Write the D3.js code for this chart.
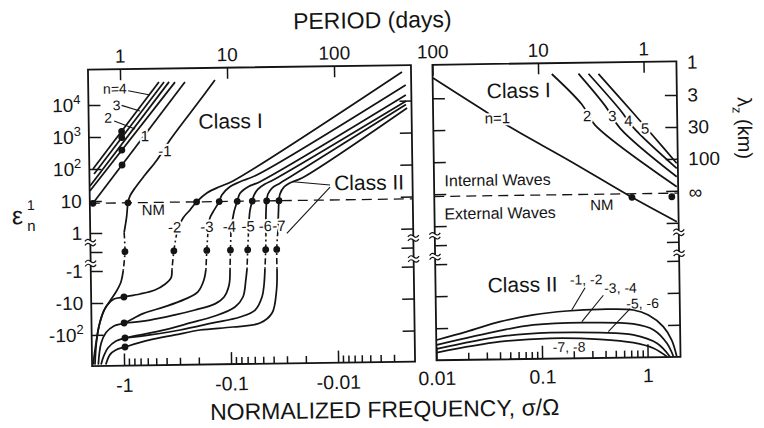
<!DOCTYPE html>
<html>
<head>
<meta charset="utf-8">
<script src="https://cdn.jsdelivr.net/npm/d3@7/dist/d3.min.js"></script>
<style>
  html, body { margin: 0; padding: 0; background: #fff; }
  svg { display: block; }
  text { font-family: "Liberation Sans", Arial, Helvetica, sans-serif; fill: #141414; }
</style>
</head>
<body>
<svg id="chart" width="764" height="428"></svg>
<script>
// ---------------- values: [σ/Ω, ε] ----------------
const nmLevel = 8.5;   // ε of the normal mode (dashed line)

// westward (σ < 0), Class I branches with ε > 0
const westI_n4 = [[-1.84, 100], [-0.434, 4.9e4]];
const westI_n3 = [[-1.80, 70], [-0.389, 4.9e4]];
const westI_n2 = [[-1.97, 29.6], [-0.349, 4.9e4]];
const westI_nb = [[-1.98, 20.6], [-0.307, 4.8e4]];
const westI_n1 = [[-1.86, 8.5], [-0.248, 4.8e4]];
const westI_nm1 = [[-0.130, 5.4e4], [-0.180, 1.29e4], [-0.348, 750], [-0.463, 180], [-0.603, 61.7],
  [-0.749, 24.6], [-0.838, 13.8], [-0.876, 8.5], [-0.905, 3.14], [-0.96, 1], [-0.948, 0], [-0.99, -1],
  [-1.043, -2.25], [-1.165, -4.63], [-1.33, -8.8], [-1.52, -17.4], [-1.70, -54.6], [-1.82, -186], [-1.95, -846]];

// westward, Class II branches (n = -2 … -7)
const westII_m2 = [[-0.00232, 7.9e4], [-0.0908, 36.8], [-0.120, 25.1], [-0.160, 15.9], [-0.200, 8.5],
  [-0.231, 4.77], [-0.269, 2.70], [-0.308, 1], [-0.331, 0], [-0.347, -1], [-0.355, -1.78], [-0.405, -2.78],
  [-0.503, -4.16], [-0.695, -5.47], [-0.983, -6.68], [-1.22, -7.66], [-1.42, -12.2], [-1.62, -31],
  [-1.78, -129], [-1.87, -846]];
const westII_m3 = [[-0.00215, 3.09e4], [-0.0544, 55.2], [-0.0781, 34.7], [-0.0973, 24.4], [-0.116, 13.6],
  [-0.123, 8.5], [-0.141, 4.04], [-0.151, 2.62], [-0.158, 1], [-0.163, 0], [-0.167, -1], [-0.175, -2.13],
  [-0.200, -5.0], [-0.264, -8.3], [-0.407, -14.0], [-0.656, -22.5], [-0.987, -43.4], [-1.23, -53],
  [-1.46, -85], [-1.63, -187], [-1.74, -846]];
const westII_m4 = [[-0.00215, 1.5e4], [-0.0508, 34], [-0.0655, 24], [-0.0784, 15.1], [-0.0834, 8.5],
  [-0.0898, 3.95], [-0.0964, 1], [-0.098, 0], [-0.0995, -1], [-0.102, -3.14], [-0.114, -7.4],
  [-0.139, -12.0], [-0.214, -18.3], [-0.330, -25.6], [-0.565, -36], [-0.987, -43.4]];
const westII_m5 = [[-0.00214, 9.7e3], [-0.0368, 40.5], [-0.0457, 28.6], [-0.0532, 20], [-0.058, 13.1],
  [-0.0604, 8.5], [-0.0637, 4.2], [-0.066, 1], [-0.0676, 0], [-0.069, -1], [-0.071, -2.22],
  [-0.0759, -7.53], [-0.0904, -15.3], [-0.14, -28.8], [-0.239, -46.3], [-0.457, -79.6], [-0.973, -128],
  [-1.18, -157], [-1.41, -258], [-1.54, -448], [-1.64, -846]];
const westII_m6 = [[-0.00215, 7.6e3], [-0.0266, 46.3], [-0.0331, 30], [-0.0393, 21.3], [-0.043, 13.9],
  [-0.0443, 8.5], [-0.0451, 3.8], [-0.0454, 1], [-0.0459, 0], [-0.0469, -1], [-0.0481, -3.24],
  [-0.0504, -7.66], [-0.0587, -19.5], [-0.0813, -31.6], [-0.146, -47.3], [-0.297, -76], [-0.568, -105],
  [-0.973, -128]];
const westII_m7 = [[-0.0021, 5.9e3], [-0.0206, 42.4], [-0.0255, 32.3], [-0.0303, 22.7], [-0.0332, 13.7],
  [-0.034, 8.5], [-0.0345, 3.77], [-0.0351, 1], [-0.0362, 0], [-0.0362, -1], [-0.0368, -4.7],
  [-0.0408, -24.6], [-0.053, -50], [-0.095, -64.6], [-0.193, -77.6], [-0.332, -108], [-0.569, -151],
  [-0.975, -245], [-1.19, -300], [-1.35, -417], [-1.48, -851]];

// dots on the westward branches
const westNMDots = [-1.86, -0.876, -0.200, -0.123, -0.0834, -0.0604, -0.0443, -0.034];   // on ε = nmLevel
const westZeroDots = [-0.948, -0.331, -0.163, -0.098, -0.0676, -0.0459, -0.0362];        // ε = 0
const westUnitDots = [[-0.983, 1470], [-0.983, 940], [-0.983, 380], [-0.983, 130],
  [-0.983, -6.68], [-0.987, -43.4], [-0.973, -128], [-0.975, -245]];

// eastward (σ > 0), Class I
const eastI_n1 = [[0.0101, 4.3e4], [0.0279, 4730], [0.0533, 1170], [0.195, 95.9], [0.746, 6.6], [1.97, 1.09]];
const eastI_n2 = [[0.1347, 5.1e4], [0.2567, 5580], [0.341, 1240], [1.99, 13.5]];
const eastI_n3 = [[0.241, 5.1e4], [0.428, 4870], [0.589, 955], [1.995, 27.7]];
const eastI_n4 = [[0.300, 5.0e4], [0.593, 3560], [0.787, 990], [2.0, 50.6]];
const eastI_n5 = [[0.373, 4.9e4], [0.791, 2780], [1.21, 531], [2.0, 72.9]];
// eastward, Class II (pairs of degenerate modes)
const eastII_12 = [[0.0101, -233], [0.0195, -132], [0.0405, -66.5], [0.0837, -42.4], [0.174, -33.0],
  [0.36, -30.3], [0.743, -32.8], [1.03, -47.6], [1.42, -112], [1.70, -296], [1.89, -985]];
const eastII_34 = [[0.0101, -331], [0.0404, -127], [0.0834, -87], [0.248, -77.6], [0.741, -89.8],
  [1.15, -141], [1.53, -373], [1.76, -985]];
const eastII_56 = [[0.0101, -444], [0.0402, -196], [0.12, -155], [0.357, -163], [0.738, -198],
  [1.23, -370], [1.63, -980]];
const eastII_78 = [[0.0101, -576], [0.0402, -281], [0.12, -231], [0.356, -262], [0.736, -345],
  [1.14, -525], [1.53, -980]];
const eastNMDots = [[0.746, 6.6], [1.78, 6.6]];

// axis ticks and labels
const freqTicksWest = [-1, -0.1, -0.01];
const freqLabelsWest = ["-1", "-0.1", "-0.01"];
const freqTicksEast = [0.01, 0.1, 1];
const freqLabelsEast = ["0.01", "0.1", "1"];
const periodLabelsWest = ["1", "10", "100"];
const periodLabelsEast = ["100", "10", "1"];
const epsTicksUpper = [1, 10, 100, 1000, 10000];
const epsTicksLower = [-1, -10, -100];
const epsLabelsUpper = [["1", ""], ["10", ""], ["10", "2"], ["10", "3"], ["10", "4"]];
const epsLabelsLower = [["-1", ""], ["-10", ""], ["-10", "2"]];
const lambdaTicks = [10000, 1000, 100];
const lambdaLabels = ["3", "30", "100"];

// annotations: [text, σ, ε]
const westModeLabels = [["n=4", -1.12, 3.16e4], ["3", -1.085, 9650], ["2", -1.31, 3960]];
const westLineLabels = [["1", -0.596, 1020], ["-1", -0.389, 341], ["-2", -0.323, 1.4], ["-3", -0.162, 1.4],
  ["-4", -0.0995, 1.4], ["-5", -0.0667, 1.4], ["-6", -0.0458, 1.4], ["-7", -0.0343, 1.4]];
const westLeaders = [[[-0.842, 2.7e4], [-0.528, 1.95e4]], [[-0.975, 9500], [-0.659, 6200]],
  [[-1.15, 3110], [-0.736, 1710]], [[-0.01128, 24.9], [-0.025, 32.8]], [[-0.01128, 21.6], [-0.029, 0.84]]];
const eastLineLabels = [["n=1", 0.0406, 2270], ["2", 0.288, 2390], ["3", 0.50, 2330], ["4", 0.706, 1630], ["5", 1.015, 930]];
const eastPairLabels = [["-1, -2", 0.268, -3.5], ["-3, -4", 0.565, -6.6], ["-5, -6", 0.91, -20.5], ["-7, -8", 0.181, -439]];
const eastLeaders = [[[0.261, -6.3], [0.194, -30.9]], [[0.388, -11.0], [0.241, -72.4]], [[0.693, -29.5], [0.428, -151]]];

// ---------------- layout ----------------
const W = { x0: 90, x1: 413, y0: 65.5, y1: 362 };
const E = { x0: 434.5, x1: 678.5, y0: 65.5, y1: 361 };

const xW = d3.scaleLog().domain([-1.99, -0.00191]).range([W.x0, W.x1]);
const xE = d3.scaleLog().domain([0.01, 2.05]).range([E.x0, E.x1]);

// broken ε axis: log above 1, linear through 0, log below -1
function makeY(off) {
  const up = d3.scaleLog().domain([1, Math.pow(10, 5.11)]).range([229 + off, 65.5 + off]);
  const mid = d3.scaleLinear().domain([1, -1]).range([229 + off, 267 + off]);
  const lo = d3.scaleLog().domain([-1, -Math.pow(10, 2.97)]).range([267 + off, 362 + off]);
  const f = e => (e >= 1 ? up(e) : e <= -1 ? lo(e) : mid(e));
  f.up = up; f.mid = mid; f.lo = lo;
  return f;
}
const yW = makeY(0);
const yE = makeY(-2);

const svg = d3.select("#chart");
const defs = svg.append("defs");
[["clipW", W], ["clipE", E]].forEach(([id, p]) =>
  defs.append("clipPath").attr("id", id).append("rect")
    .attr("x", p.x0).attr("y", p.y0).attr("width", p.x1 - p.x0).attr("height", p.y1 - p.y0));

const root = svg.append("g").attr("transform", "rotate(-0.8,382,214)");
const ink = "#141414";

function splitRuns(pts) {
  const runs = [];
  let cur = null;
  for (let i = 0; i < pts.length - 1; i++) {
    const a = pts[i], b = pts[i + 1];
    const type = (Math.abs(a[1]) <= 1.0001 && Math.abs(b[1]) <= 1.0001) ? "mid" : "solid";
    if (!cur || cur.type !== type) { cur = { type, pts: [a] }; runs.push(cur); }
    cur.pts.push(b);
  }
  return runs;
}
function drawCurves(g, list, x, y) {
  const gen = d3.line().x(d => x(d[0])).y(d => y(d[1])).curve(d3.curveCatmullRom.alpha(0.5));
  list.forEach(pts => splitRuns(pts).forEach(r => {
    g.append("path").attr("d", gen(r.pts)).attr("fill", "none").attr("stroke", ink)
      .attr("stroke-width", r.type === "mid" ? 1.6 : 1.75)
      .attr("stroke-dasharray", r.type === "mid" ? "6,3,1.8,3" : null);
  }));
}
function drawLeaders(g, list, x, y) {
  list.forEach(l => g.append("line").attr("x1", x(l[0][0])).attr("y1", y(l[0][1]))
    .attr("x2", x(l[1][0])).attr("y2", y(l[1][1])).attr("stroke", ink).attr("stroke-width", 1.1));
}
function drawLabels(g, list, x, y, size, halo) {
  list.forEach(([t, s, e]) => {
    const el = g.append("text").attr("x", x(s)).attr("y", y(e)).attr("dy", "0.35em")
      .attr("text-anchor", "middle").attr("font-size", size).text(t);
    if (halo) el.attr("stroke", "#fff").attr("stroke-width", 4).attr("stroke-linejoin", "round")
      .attr("paint-order", "stroke");
  });
}
function dots(g, list, x, y) {
  g.selectAll(null).data(list).enter().append("circle")
    .attr("cx", d => x(d[0])).attr("cy", d => y(d[1])).attr("r", 3.4).attr("fill", ink);
}

// ---------------- west panel ----------------
const gW = root.append("g");
const cW = gW.append("g").attr("clip-path", "url(#clipW)");
cW.append("line").attr("x1", W.x0).attr("x2", W.x1).attr("y1", yW(nmLevel)).attr("y2", yW(nmLevel))
  .attr("stroke", ink).attr("stroke-width", 1.3).attr("stroke-dasharray", "10,6");
drawCurves(cW, [westI_n4, westI_n3, westI_n2, westI_nb, westI_n1, westI_nm1,
  westII_m2, westII_m3, westII_m4, westII_m5, westII_m6, westII_m7], xW, yW);
dots(cW, westNMDots.map(s => [s, nmLevel]), xW, yW);
dots(cW, westZeroDots.map(s => [s, 0]), xW, yW);
dots(cW, westUnitDots, xW, yW);
drawLeaders(gW, westLeaders, xW, yW);
drawLabels(gW, westModeLabels, xW, yW, 14, false);
drawLabels(gW, westLineLabels, xW, yW, 15, true);
drawLabels(gW, [["NM", -0.509, 5.0]], xW, yW, 15, false);
drawLabels(gW, [["Class I", -0.094, 2760]], xW, yW, 21, true);
drawLabels(gW, [["Class II", -0.00487, 28.8]], xW, yW, 21, true);

// ---------------- east panel ----------------
const gE = root.append("g");
const cE = gE.append("g").attr("clip-path", "url(#clipE)");
cE.append("line").attr("x1", E.x0).attr("x2", E.x1).attr("y1", yE(nmLevel)).attr("y2", yE(nmLevel))
  .attr("stroke", ink).attr("stroke-width", 1.3).attr("stroke-dasharray", "10,6");
drawCurves(cE, [eastI_n1, eastI_n2, eastI_n3, eastI_n4, eastI_n5, eastII_12, eastII_34, eastII_56, eastII_78], xE, yE);
dots(cE, eastNMDots, xE, yE);
drawLeaders(gE, eastLeaders, xE, yE);
drawLabels(gE, eastLineLabels, xE, yE, 15, true);
drawLabels(gE, eastPairLabels, xE, yE, 14, false);
drawLabels(gE, [["Class I", 0.0652, 1.62e4]], xE, yE, 21, true);
drawLabels(gE, [["Class II", 0.0668, -4.7]], xE, yE, 21, true);
drawLabels(gE, [["Internal Waves", 0.04, 26.3], ["External Waves", 0.0418, 2.42]], xE, yE, 16, true);
drawLabels(gE, [["NM", 0.385, 3.98]], xE, yE, 15, false);

// ---------------- axes ----------------
function styleAxis(g, size) {
  g.select(".domain").remove();
  g.attr("font-size", size).attr("font-family", "Liberation Sans, Arial, sans-serif");
  g.selectAll(".tick line").attr("stroke", ink).attr("stroke-width", 1.5);
}
const minorWest = [];
[0.1, 0.01].forEach(d => [2, 3, 4, 5, 6, 7, 8, 9].forEach(k => minorWest.push(-k * d)));
[3, 4, 5, 6, 7, 8, 9].forEach(k => minorWest.push(-k * 0.001));
const minorEast = [];
[0.01, 0.1].forEach(d => [2, 3, 4, 5, 6, 7, 8, 9].forEach(k => minorEast.push(k * d)));

// bottom
root.append("g").attr("transform", `translate(0,${W.y1})`)
  .call(d3.axisBottom(xW).tickValues(freqTicksWest).tickSize(-12).tickPadding(12.5)
    .tickFormat((d, i) => freqLabelsWest[i])).call(g => styleAxis(g, 19.5));
root.append("g").attr("transform", `translate(0,${W.y1})`)
  .call(d3.axisBottom(xW).tickValues(minorWest).tickSize(-7).tickFormat("")).call(g => styleAxis(g, 10));
root.append("g").attr("transform", `translate(0,${E.y1})`)
  .call(d3.axisBottom(xE).tickValues(freqTicksEast).tickSize(-13).tickPadding(11)
    .tickFormat((d, i) => freqLabelsEast[i])).call(g => styleAxis(g, 19.5));
root.append("g").attr("transform", `translate(0,${E.y1})`)
  .call(d3.axisBottom(xE).tickValues(minorEast).tickSize(-7).tickFormat("")).call(g => styleAxis(g, 10));

// top: period in days
root.append("g").attr("transform", `translate(0,${W.y0})`)
  .call(d3.axisTop(xW).tickValues(freqTicksWest).tickSize(-11).tickPadding(6.5)
    .tickFormat((d, i) => periodLabelsWest[i])).call(g => styleAxis(g, 19));
root.append("g").attr("transform", `translate(0,${E.y0})`)
  .call(d3.axisTop(xE).tickValues(freqTicksEast).tickSize(-11).tickPadding(6.5)
    .tickFormat((d, i) => periodLabelsEast[i])).call(g => styleAxis(g, 19));

// vertical edges
function edgeTicks(y, xPos, side) {
  const mk = side === "left" ? d3.axisLeft : d3.axisRight;
  [[y.up, epsTicksUpper], [y.mid, [0]], [y.lo, epsTicksLower]].forEach(([s, vals]) => {
    root.append("g").attr("transform", `translate(${xPos},0)`)
      .call(mk(s).tickValues(vals).tickSize(-12).tickFormat("")).call(g => styleAxis(g, 10));
  });
}
edgeTicks(yW, W.x0, "left");
edgeTicks(yW, W.x1, "right");
edgeTicks(yE, E.x0, "left");
edgeTicks(yE, E.x1, "right");

// frames
[W, E].forEach(p => root.append("rect").attr("x", p.x0).attr("y", p.y0)
  .attr("width", p.x1 - p.x0).attr("height", p.y1 - p.y0)
  .attr("fill", "none").attr("stroke", ink).attr("stroke-width", 1.8));

// axis breaks (≈) between 1 and 0 and between 0 and -1
function breakMark(x, y) {
  root.append("rect").attr("x", x - 2.5).attr("y", y - 2).attr("width", 5).attr("height", 4).attr("fill", "#fff");
  [-2, 2].forEach(o => root.append("path")
    .attr("d", `M${x - 5.5},${y + o + 0.8} c2,-2.6 3.5,-2.6 5.5,-0.8 s3.5,1.8 5.5,-0.8`)
    .attr("fill", "none").attr("stroke", ink).attr("stroke-width", 1.2));
}
[[yW, W.x0], [yW, W.x1], [yE, E.x0], [yE, E.x1]].forEach(([y, x]) => {
  breakMark(x, y.mid(0.5));
  breakMark(x, y.mid(-0.6));
});

// ε labels on the left
const yLab = root.append("g").attr("font-size", 19).attr("text-anchor", "end");
function powLabel(g, x, y, base, exp) {
  const t = g.append("text").attr("x", x).attr("y", y).attr("dy", "0.35em");
  t.append("tspan").text(base);
  if (exp) t.append("tspan").attr("font-size", 13).attr("dy", -8).text(exp);
}
epsTicksUpper.forEach((v, i) => powLabel(yLab, 82, yW.up(v), epsLabelsUpper[i][0], epsLabelsUpper[i][1]));
epsTicksLower.forEach((v, i) => powLabel(yLab, 82, yW.lo(v), epsLabelsLower[i][0], epsLabelsLower[i][1]));

// λz labels on the right
const rLab = root.append("g").attr("font-size", 19).attr("text-anchor", "start");
rLab.append("text").attr("x", 689).attr("y", E.y0 + 1).attr("dy", "0.35em").text("1");
lambdaTicks.forEach((v, i) => rLab.append("text").attr("x", 689).attr("y", yE.up(v)).attr("dy", "0.35em").text(lambdaLabels[i]));
rLab.append("text").attr("x", 689).attr("y", yE(nmLevel)).attr("dy", "0.3em").text("∞");

// titles
root.append("text").attr("x", 375).attr("y", 28).attr("text-anchor", "middle").attr("font-size", 23).text("PERIOD (days)");
root.append("text").attr("x", 382).attr("y", 417.5).attr("text-anchor", "middle").attr("font-size", 23)
  .text("NORMALIZED FREQUENCY, σ/Ω");

const eps = root.append("g");
eps.append("text").attr("x", 12).attr("y", 219).attr("font-size", 25).text("ε");
eps.append("text").attr("x", 27).attr("y", 205).attr("font-size", 14).text("1");
eps.append("text").attr("x", 27).attr("y", 226).attr("font-size", 15).text("n");

const lam = root.append("text").attr("transform", "translate(739,133) rotate(90)")
  .attr("text-anchor", "middle").attr("font-size", 20);
lam.append("tspan").text("λ");
lam.append("tspan").attr("font-size", 13).attr("dy", 5).text("z");
lam.append("tspan").attr("dy", -5).text(" (km)");
</script>
</body>
</html>
